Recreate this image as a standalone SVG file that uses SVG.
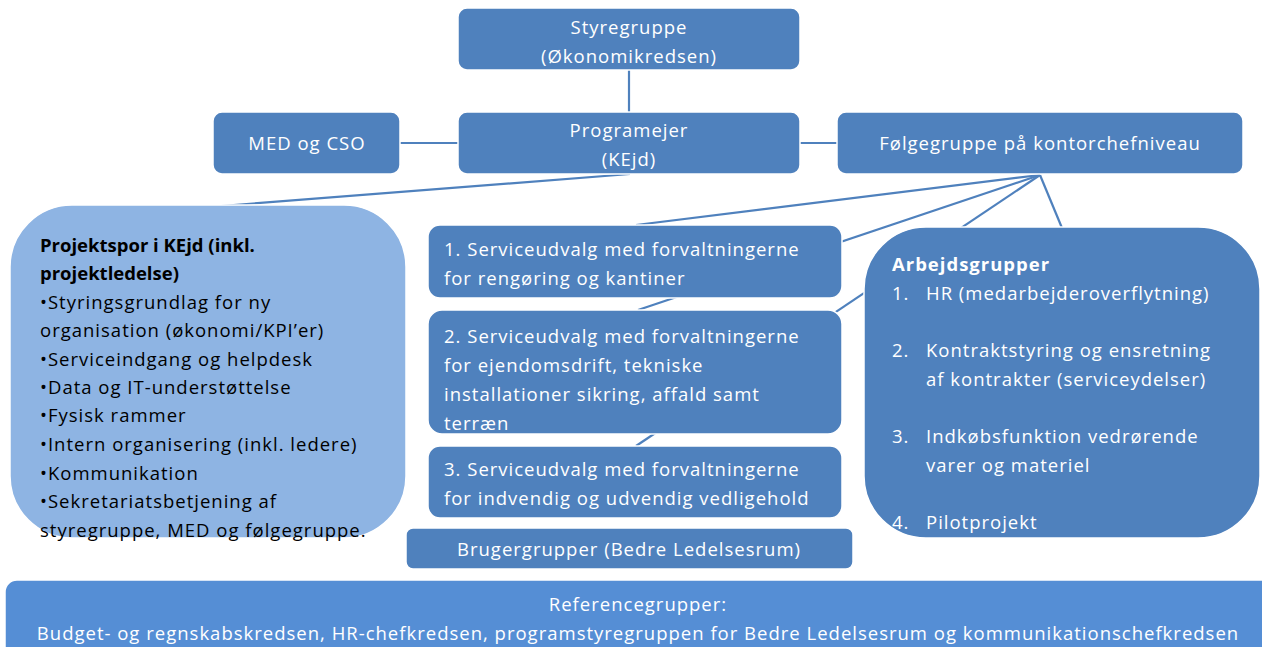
<svg xmlns="http://www.w3.org/2000/svg" width="1262" height="647" viewBox="0 0 1262 647">
<style>
.n{fill:#4F81BD;stroke:#ffffff;stroke-width:1.5}
.lt{fill:#8EB4E3;stroke:#ffffff;stroke-width:1.5}
.rf{fill:#558ED5;stroke:#ffffff;stroke-width:1.5}
.c{stroke:#4F81BD;stroke-width:2.2;fill:none}
text{font-family:"Open Sans","Noto Sans","Liberation Sans",sans-serif;font-size:18.5px;letter-spacing:1px}
.w{fill:#ffffff}
.k{fill:#000000}
.m{text-anchor:middle}
.b{font-weight:bold;letter-spacing:0px}
.b1{font-weight:bold;letter-spacing:1px}
</style>
<rect width="1262" height="647" fill="#ffffff"/>
<g id="connectors">
<line class="c" x1="629" y1="70" x2="629" y2="112"/>
<line class="c" x1="400" y1="143" x2="458" y2="143"/>
<line class="c" x1="800" y1="143" x2="837" y2="143"/>
<line class="c" x1="630" y1="174" x2="208" y2="207"/>
<line class="c" x1="1040" y1="175" x2="636" y2="225"/>
<line class="c" x1="1040" y1="175" x2="638" y2="310"/>
<line class="c" x1="1040" y1="175" x2="636" y2="446"/>
<line class="c" x1="1040" y1="175" x2="1062" y2="228"/>
</g>
<g id="styregruppe">
<rect class="n" x="458" y="8" width="342" height="62" rx="9"/>
<text class="w m" x="629" y="34">Styregruppe</text>
<text class="w m" x="629" y="63">(Økonomikredsen)</text>
</g>
<g id="programejer">
<rect class="n" x="458" y="112" width="342" height="62" rx="9"/>
<text class="w m" x="629" y="137">Programejer</text>
<text class="w m" x="629" y="166">(KEjd)</text>
</g>
<g id="med-cso">
<rect class="n" x="213" y="112" width="187" height="62" rx="9"/>
<text class="w m" x="307" y="150">MED og CSO</text>
</g>
<g id="foelgegruppe">
<rect class="n" x="837" y="112" width="406" height="62" rx="9"/>
<text class="w m" x="1040" y="150">Følgegruppe på kontorchefniveau</text>
</g>
<g id="projektspor">
<rect class="lt" x="10" y="205" width="396" height="333" rx="62"/>
<text class="k b" x="40" y="252">Projektspor i KEjd (inkl.</text>
<text class="k b" x="40" y="280">projektledelse)</text>
<text class="k" x="40" y="309">•Styringsgrundlag for ny</text>
<text class="k" x="40" y="337">organisation (økonomi/KPI’er)</text>
<text class="k" x="40" y="366">•Serviceindgang og helpdesk</text>
<text class="k" x="40" y="394">•Data og IT-understøttelse</text>
<text class="k" x="40" y="422">•Fysisk rammer</text>
<text class="k" x="40" y="451">•Intern organisering (inkl. ledere)</text>
<text class="k" x="40" y="480">•Kommunikation</text>
<text class="k" x="40" y="508">•Sekretariatsbetjening af</text>
<text class="k" x="40" y="537">styregruppe, MED og følgegruppe.</text>
</g>
<g id="service1">
<rect class="n" x="428" y="225" width="414" height="73" rx="12"/>
<text class="w" x="444" y="256">1. Serviceudvalg med forvaltningerne</text>
<text class="w" x="444" y="285">for rengøring og kantiner</text>
</g>
<g id="service2">
<rect class="n" x="428" y="310" width="414" height="124" rx="14"/>
<text class="w" x="444" y="343">2. Serviceudvalg med forvaltningerne</text>
<text class="w" x="444" y="372">for ejendomsdrift, tekniske</text>
<text class="w" x="444" y="401">installationer sikring, affald samt</text>
<text class="w" x="444" y="430">terræn</text>
</g>
<g id="service3">
<rect class="n" x="428" y="446" width="414" height="72" rx="12"/>
<text class="w" x="444" y="476">3. Serviceudvalg med forvaltningerne</text>
<text class="w" x="444" y="505">for indvendig og udvendig vedligehold</text>
</g>
<g id="brugergrupper">
<rect class="n" x="406" y="528" width="447" height="41" rx="7"/>
<text class="w m" x="629" y="556">Brugergrupper (Bedre Ledelsesrum)</text>
</g>
<g id="arbejdsgrupper">
<rect class="n" x="864" y="227" width="396" height="311" rx="62"/>
<text class="w b1" x="892" y="271">Arbejdsgrupper</text>
<text class="w" x="892" y="300">1.</text>
<text class="w" x="926" y="300">HR (medarbejderoverflytning)</text>
<text class="w" x="892" y="357">2.</text>
<text class="w" x="926" y="357">Kontraktstyring og ensretning</text>
<text class="w" x="926" y="386">af kontrakter (serviceydelser)</text>
<text class="w" x="892" y="443">3.</text>
<text class="w" x="926" y="443">Indkøbsfunktion vedrørende</text>
<text class="w" x="926" y="472">varer og materiel</text>
<text class="w" x="892" y="529">4.</text>
<text class="w" x="926" y="529">Pilotprojekt</text>
</g>
<g id="referencegrupper">
<rect class="rf" x="5" y="580" width="1270" height="80" rx="12"/>
<text class="w m" x="638" y="611">Referencegrupper:</text>
<text class="w m" x="638" y="640">Budget- og regnskabskredsen, HR-chefkredsen, programstyregruppen for Bedre Ledelsesrum og kommunikationschefkredsen</text>
</g>
</svg>
